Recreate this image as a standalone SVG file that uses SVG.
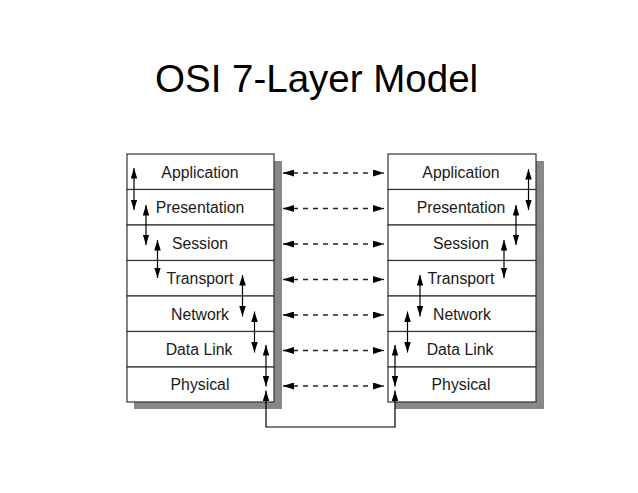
<svg xmlns="http://www.w3.org/2000/svg" width="638" height="493" viewBox="0 0 638 493">
<style>
.title{font-family:"Liberation Sans",Arial,sans-serif;font-size:38.5px;fill:#000}
.lbl{font-family:"Liberation Sans",Arial,sans-serif;font-size:15.8px;fill:#1a1a1a;text-anchor:middle}
.box{fill:#fff;stroke:#333;stroke-width:1.2}
.shadow{fill:#888}
.v{stroke:#000;stroke-width:1.2;fill:none;marker-start:url(#ah);marker-end:url(#ah)}
.h{stroke:#222;stroke-width:1.3;stroke-dasharray:5 5;fill:none;marker-start:url(#ahh);marker-end:url(#ahh)}
</style>
<defs>
<marker id="ah" viewBox="0 0 10 10" preserveAspectRatio="none" refX="10" refY="5" markerWidth="10.5" markerHeight="6.5" markerUnits="userSpaceOnUse" orient="auto-start-reverse"><path d="M0,0 L10,5 L0,10 z" fill="#000"/></marker>
<marker id="ahh" viewBox="0 0 10 10" preserveAspectRatio="none" refX="10" refY="5" markerWidth="11" markerHeight="7" markerUnits="userSpaceOnUse" orient="auto-start-reverse"><path d="M0,0 L10,5 L0,10 z" fill="#000"/></marker>
</defs>
<rect width="638" height="493" fill="#fff"/>
<text class="title" x="155" y="92">OSI 7-Layer Model</text>

<rect class="shadow" x="134" y="161" width="148" height="248"/>
<rect class="shadow" x="395" y="161" width="149" height="248"/>

<g id="left-application"><rect class="box" x="127" y="154" width="147" height="35.5"/><text class="lbl" x="200" y="177.5">Application</text></g>
<g id="left-presentation"><rect class="box" x="127" y="189.5" width="147" height="35.5"/><text class="lbl" x="200" y="213">Presentation</text></g>
<g id="left-session"><rect class="box" x="127" y="225" width="147" height="35.5"/><text class="lbl" x="200" y="248.5">Session</text></g>
<g id="left-transport"><rect class="box" x="127" y="260.5" width="147" height="35.5"/><text class="lbl" x="200" y="284">Transport</text></g>
<g id="left-network"><rect class="box" x="127" y="296" width="147" height="35.5"/><text class="lbl" x="200" y="319.5">Network</text></g>
<g id="left-datalink"><rect class="box" x="127" y="331.5" width="147" height="35.5"/><text class="lbl" x="199" y="355">Data Link</text></g>
<g id="left-physical"><rect class="box" x="127" y="367" width="147" height="35"/><text class="lbl" x="200" y="390">Physical</text></g>

<g id="right-application"><rect class="box" x="388" y="154" width="148" height="35.5"/><text class="lbl" x="461" y="177.5">Application</text></g>
<g id="right-presentation"><rect class="box" x="388" y="189.5" width="148" height="35.5"/><text class="lbl" x="461" y="213">Presentation</text></g>
<g id="right-session"><rect class="box" x="388" y="225" width="148" height="35.5"/><text class="lbl" x="461" y="248.5">Session</text></g>
<g id="right-transport"><rect class="box" x="388" y="260.5" width="148" height="35.5"/><text class="lbl" x="461" y="284">Transport</text></g>
<g id="right-network"><rect class="box" x="388" y="296" width="148" height="35.5"/><text class="lbl" x="462" y="319.5">Network</text></g>
<g id="right-datalink"><rect class="box" x="388" y="331.5" width="148" height="35.5"/><text class="lbl" x="460" y="355">Data Link</text></g>
<g id="right-physical"><rect class="box" x="388" y="367" width="148" height="35"/><text class="lbl" x="461" y="390">Physical</text></g>

<g id="connectors">
<line class="v" x1="134" y1="168" x2="134" y2="210"/>
<line class="v" x1="146" y1="205" x2="146" y2="245"/>
<line class="v" x1="157.5" y1="240" x2="157.5" y2="278"/>
<line class="v" x1="242.5" y1="275" x2="242.5" y2="316.5"/>
<line class="v" x1="254.5" y1="311.5" x2="254.5" y2="352.5"/>
<line class="v" x1="266" y1="345" x2="266" y2="386.5"/>

<line class="v" x1="528.5" y1="169" x2="528.5" y2="210"/>
<line class="v" x1="516" y1="205" x2="516" y2="245"/>
<line class="v" x1="504" y1="240" x2="504" y2="278"/>
<line class="v" x1="420" y1="275" x2="420" y2="316.5"/>
<line class="v" x1="407.5" y1="311.5" x2="407.5" y2="352.5"/>
<line class="v" x1="395" y1="345" x2="395" y2="386.5"/>

<path class="v" d="M266,390.5 L266,427 L395,427 L395,390.5"/>

<line class="h" x1="283" y1="173" x2="384" y2="173"/>
<line class="h" x1="283" y1="208.5" x2="384" y2="208.5"/>
<line class="h" x1="283" y1="244" x2="384" y2="244"/>
<line class="h" x1="283" y1="279.5" x2="384" y2="279.5"/>
<line class="h" x1="283" y1="315" x2="384" y2="315"/>
<line class="h" x1="283" y1="350.5" x2="384" y2="350.5"/>
<line class="h" x1="283" y1="386" x2="384" y2="386"/>
</g>
</svg>
